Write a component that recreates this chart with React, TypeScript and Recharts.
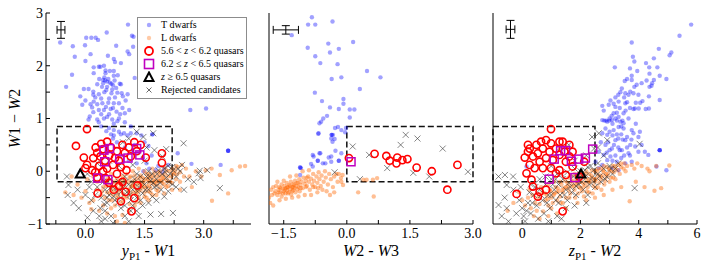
import React from 'react';
import { ScatterChart, Scatter, XAxis, YAxis, ReferenceArea, ErrorBar, Legend } from 'recharts';

type Pt = [number, number];

// ---------- Panel 1: y_P1 - W1 vs W1 - W2 ----------
const p1TDwarfs: Pt[] = [
  [-0.64,2.44],[0.54,2.63],[1.08,2.78],[0.15,2.53],[0.26,2.53],[0.02,2.53],[0.32,2.49],[-0.01,2.39],[-0.32,2.37],[0.78,2.38],
  [1.18,2.57],[1.22,2.55],[1.07,2.27],[1.11,2.22],[1.21,2.36],[-0.27,2.17],[0.13,2.22],[0.57,2.19],[0.72,2.13],[0.0,2.09],
  [0.34,1.98],[0.38,1.98],[0.75,2.07],[0.9,2.05],[0.21,1.97],[0.47,2.0],[-0.34,1.83],[0.21,1.86],[0.51,1.91],[0.51,1.86],
  [0.72,1.81],[0.72,1.9],[0.45,1.73],[0.45,1.67],[0.55,1.70],[0.5,1.72],[0.66,1.66],[0.7,1.63],[0.74,1.72],[0.87,1.66],
  [0.9,1.65],[1.25,1.77],[-0.49,1.60],[-0.04,1.56],[0.08,1.56],[0.2,1.51],[0.2,1.45],[0.34,1.46],[0.53,1.54],[0.66,1.48],
  [0.81,1.49],[0.92,1.48],[1.07,1.46],[1.98,1.41],[-0.13,1.42],[0.0,1.34],[0.21,1.32],[0.43,1.29],[0.58,1.30],[0.72,1.29],
  [0.85,1.29],[1.02,1.34],[0.13,1.27],[0.3,1.27],[-0.08,1.26],[0.17,1.21],[0.34,1.16],[0.47,1.16],[0.64,1.18],[0.79,1.13],
  [0.94,1.20],[1.11,1.16],[2.66,1.16],[3.06,1.19],[0.11,1.04],[0.30,0.98],[0.47,1.0],[0.68,0.98],[0.81,0.95],[0.08,0.98],
  [0.34,0.93],[0.55,1.03],[0.72,0.90],[0.85,1.0],[1.0,0.93],[0.4,0.85],[0.6,0.82],[0.72,0.78],[0.85,0.75],[0.98,0.72],
  [0.53,0.76],[1.15,0.85],[0.65,0.70],[0.72,0.68],[0.9,0.70],[1.07,0.68],[1.15,0.72],[1.3,0.72],[1.42,0.68],[1.7,0.70],
  [1.7,0.70],[1.6,0.48],[1.68,0.30],[1.55,0.15],[1.47,0.0],[1.62,0.05],[1.78,0.02],[2.34,0.34],[3.62,0.39],[3.62,0.39],
  [3.62,0.39],[0.8,0.55],[1.0,0.45],[1.2,0.4],[1.35,0.35],[0.9,0.3],[1.1,0.2],[1.3,0.15],[1.45,0.25],[0.7,0.62],
  [1.25,0.5],[1.5,0.55],[1.85,0.1],[2.0,0.05],[1.95,-0.02],[2.1,0.12],[2.69,0.14],[3.43,0.12],
  [0.48,1.78],[0.58,1.75],[0.62,1.68],[0.42,1.6],[0.55,1.6],[0.78,1.58],[0.3,1.65],[0.35,1.75],[0.62,1.9],[0.82,1.82],
  [0.4,1.38],[0.6,1.38],[0.75,1.4],[0.95,1.42],[0.25,1.4],[0.52,1.22],[0.7,1.2],[0.88,1.08],[0.6,1.08],[0.4,1.08],
  [0.2,1.12],[1.0,1.1],[0.68,1.55],[0.48,1.5],
];

const p1LDwarfs: Pt[] = [
  [0.3,-0.35],[0.4,-0.45],[0.45,-0.3],[0.5,-0.5],[0.55,-0.4],[0.6,-0.25],[0.6,-0.55],[0.65,-0.35],[0.7,-0.45],[0.7,-0.2],
  [0.75,-0.3],[0.8,-0.5],[0.8,-0.15],[0.85,-0.38],[0.9,-0.25],[0.9,-0.6],[0.95,-0.42],[1.0,-0.3],[1.0,-0.15],[1.05,-0.5],
  [1.1,-0.35],[1.1,-0.2],[1.15,-0.1],[1.2,-0.4],[1.2,-0.25],[1.25,-0.3],[1.3,-0.15],[1.3,-0.45],[1.35,-0.22],[1.4,-0.35],
  [1.4,-0.08],[1.45,-0.25],[1.5,-0.15],[1.5,-0.4],[1.55,-0.05],[1.55,-0.28],[1.6,-0.2],[1.65,-0.1],[1.65,-0.32],[1.7,-0.15],
  [1.75,-0.02],[1.75,-0.25],[1.8,-0.1],[1.85,-0.18],[1.9,0.0],[1.9,-0.3],[1.95,-0.08],[2.0,-0.15],[2.05,0.02],[2.1,-0.1],
  [2.15,-0.2],[2.2,0.05],[2.25,-0.05],[2.3,-0.15],[2.35,0.08],[2.4,-0.02],[2.5,-0.1],[2.55,0.05],[2.64,-0.1],[2.8,0.0],
  [2.94,-0.1],[3.05,0.02],[3.2,0.05],[3.41,-0.07],[3.71,0.02],[3.92,0.09],[4.05,0.1],[3.62,-0.42],[3.21,-0.56],[2.7,-0.3],
  [2.4,-0.35],[-0.51,-0.40],[-0.3,-0.45],[-0.1,-0.5],[0.0,-0.38],[0.1,-0.6],[0.2,-0.55],[0.15,-0.72],[0.35,-0.75],[0.45,-0.65],
  [0.55,-0.8],[0.65,-0.7],[0.75,-0.85],[0.94,-0.83],[1.1,-0.75],[1.25,-0.65],[1.4,-0.6],[1.6,-0.55],[1.8,-0.45],[2.0,-0.42],
  [2.2,-0.35],[0.8,-0.95],[1.0,-0.98],[-0.35,-0.1],[-0.2,-0.25],[0.05,-0.15],[0.2,-0.1],[0.3,-0.2],[1.05,-0.05],[1.15,-0.45],
  [1.25,-0.08],[1.35,-0.38],[1.45,-0.12],[1.6,-0.38],[1.7,-0.45],[1.85,-0.02],[2.0,0.08],[1.5,0.0],[0.95,-0.1],[0.85,-0.22],
  [0.55,-0.15],[0.65,-0.05],[1.2,0.0],[1.35,0.05],[1.7,0.05],[2.1,-0.28],[2.3,0.1],[2.45,0.12],[2.0,-0.25],[1.8,-0.35],
  [1.9,-0.15],[1.62,-0.05],[1.4,-0.2],[1.55,-0.5],[1.15,-0.3],[1.3,-0.35],[1.45,-0.3],[1.6,-0.12],[1.75,-0.2],[1.95,-0.22],
  [1.02,-0.22],[1.08,-0.38],[1.12,-0.12],[1.18,-0.28],[1.22,-0.18],[1.28,-0.4],[1.32,-0.25],[1.38,-0.12],[1.42,-0.28],[1.48,-0.2],
  [1.52,-0.32],[1.58,-0.15],[1.62,-0.28],[1.68,-0.22],[1.72,-0.08],[1.78,-0.18],[1.82,-0.25],[1.88,-0.08],[1.92,-0.18],[1.98,-0.12],
  [2.02,-0.05],[2.08,-0.18],[2.12,0.0],[2.18,-0.1],[2.22,-0.02],[2.28,0.02],[2.32,-0.06],[0.72,-0.38],[0.78,-0.25],[0.82,-0.45],
  [0.88,-0.32],[0.92,-0.18],[0.98,-0.48],[0.62,-0.42],[0.68,-0.55],[0.52,-0.28],[0.42,-0.38],[1.35,-0.5],[1.5,-0.48],[1.65,-0.4],
  [1.85,-0.38],[2.05,-0.3],[2.2,-0.22],[2.4,-0.2],[1.12,-0.62],[1.3,-0.58],[0.95,-0.55],[0.75,-0.65],
];

const p1Rejected: Pt[] = [
  [0.3,-0.3],[0.4,-0.5],[0.5,-0.35],[0.55,-0.6],[0.6,-0.45],[0.7,-0.3],[0.75,-0.55],[0.8,-0.4],[0.85,-0.2],[0.9,-0.5],
  [0.95,-0.32],[1.0,-0.65],[1.05,-0.4],[1.1,-0.25],[1.15,-0.55],[1.2,-0.35],[1.25,-0.15],[1.3,-0.5],[1.35,-0.3],[1.4,-0.1],
  [1.45,-0.42],[1.5,-0.25],[1.55,-0.1],[1.6,-0.35],[1.65,-0.18],[1.7,-0.05],[1.75,-0.3],[1.8,-0.15],[1.85,0.02],[1.9,-0.22],
  [1.95,-0.05],[2.0,0.05],[2.05,-0.12],[2.1,0.1],[2.15,-0.05],[2.2,0.08],[2.3,-0.1],[2.4,0.0],[2.45,0.12],[1.47,0.65],
  [1.72,0.72],[2.49,0.53],[2.9,0.01],[3.09,0.02],[2.87,-0.04],[2.92,-0.13],[3.41,-0.32],[1.92,-0.81],[2.22,-0.79],[-0.43,-0.26],
  [-0.47,-0.10],[-0.17,-0.70],[-0.45,-0.45],[-0.2,-0.35],[0.0,-0.45],[0.1,-0.3],[0.15,-0.55],[0.2,-0.75],[0.35,-0.85],[0.5,-0.75],
  [0.65,-0.85],[0.7,-0.98],[1.0,-0.85],[1.1,-0.95],[1.3,-0.75],[1.45,-0.65],[1.6,-0.6],[1.8,-0.55],[2.0,-0.48],[2.2,-0.25],
  [2.6,-0.15],[2.5,-0.35],[2.75,-0.2],[1.3,0.75],[1.1,0.62],[0.95,0.55],[1.55,0.45],[1.75,0.4],[1.95,0.28],[2.05,0.42],
  [0.3,0.15],[0.6,0.2],[0.85,0.1],[1.2,0.12],[1.5,0.2],[-0.3,-0.6],[0.05,-0.88],[0.4,-0.95],[0.9,-0.7],[1.2,-0.65],
  [1.35,-0.85],[1.65,-0.82],[0.45,-0.2],[0.65,-0.15],[1.0,-0.1],[1.3,-0.05],[1.6,0.0],[1.8,-0.28],[2.1,-0.38],[0.55,-0.5],
  [1.02,-0.2],[1.12,-0.45],[1.22,-0.22],[1.32,-0.38],[1.42,-0.2],[1.52,-0.35],[1.62,-0.1],[1.72,-0.22],[1.82,-0.05],[1.92,-0.35],
  [2.02,-0.02],[2.12,-0.2],[2.22,0.02],[0.62,-0.32],[0.72,-0.48],[0.82,-0.6],[0.92,-0.38],[0.48,-0.62],[0.38,-0.7],[0.25,-0.45],
  [0.15,-0.2],[1.15,-0.75],[1.4,-0.55],[1.7,-0.48],[2.3,-0.3],[2.35,0.05],[0.05,-0.05],[0.5,-0.9],
];

const p1QsoLow: Pt[] = [
  [0.04,0.80],[-0.24,0.48],[0.26,0.45],[0.55,0.56],[0.94,0.50],[1.24,0.55],[1.94,0.34],[1.94,0.16],[1.53,0.26],[-0.04,0.26],
  [0.04,0.12],[0.0,0.06],[0.17,0.02],[0.3,0.35],[0.38,0.28],[0.45,0.42],[0.5,0.2],[0.6,0.3],[0.65,0.45],[0.7,0.12],
  [0.8,0.38],[0.85,0.2],[0.35,0.1],[0.2,0.25],[0.55,0.05],[0.75,0.25],[0.4,0.52],[1.0,0.35],[1.1,0.45],[1.15,0.28],
  [1.3,0.38],[1.4,0.5],[0.25,-0.02],[0.45,0.0],[0.9,0.08],[0.3,-0.12],[0.51,-0.13],[0.94,-0.2],[1.04,0.02],[0.31,-0.42],
  [0.72,-0.35],[1.02,-0.39],[1.24,-0.51],[1.32,-0.27],[0.90,-0.57],[1.17,-0.76],[0.6,-0.22],[0.8,-0.05],[0.85,-0.28],
];
const p1QsoMid: Pt[] = [
  [0.47,0.40],[0.61,0.43],[0.49,0.18],[0.87,0.23],[1.08,0.25],[1.30,0.43],[1.38,0.31],[0.31,-0.13],[0.57,-0.16],
];
const p1QsoHigh: Pt[] = [[-0.13,-0.05]];
const p1Err = [{ x: -0.62, y: 2.68, ex: 0.1, ey: 0.16 }];

// ---------- Panel 2: W2 - W3 vs W1 - W2 ----------
const p2TDwarfs: Pt[] = [
  [-0.83,2.92],[-0.92,2.78],[-0.75,2.78],[-0.34,2.84],[-1.31,2.58],[-0.93,2.34],[-0.44,2.42],[-0.19,2.32],[0.15,2.45],[-0.75,2.18],
  [-0.40,2.25],[-0.63,2.05],[-0.22,2.03],[0.48,1.90],[0.80,1.78],[-0.36,1.75],[-0.13,1.78],[0.31,1.56],[-0.76,1.49],[-0.59,1.33],
  [-0.08,1.37],[-0.08,1.28],[-0.40,1.21],[-0.19,1.18],[0.07,1.17],[0.18,1.17],[-0.47,1.05],[-0.56,1.0],[0.07,1.02],[-0.28,0.82],
  [-0.02,0.82],[-0.04,0.74],[-0.68,0.71],[-0.36,0.69],[-0.36,0.69],[-0.29,0.61],[-0.34,0.56],[-0.79,0.28],[-0.63,0.34],[-0.43,0.26],
  [-0.27,0.39],[-0.19,0.20],[-0.19,0.20],[-0.69,0.20],[-0.69,0.20],[-0.51,0.15],[-1.11,0.07],[-1.11,0.07],[-1.11,-0.07],[-0.85,0.14],
  [-0.67,0.72],[-0.65,0.91],[-0.61,0.94],[-0.33,0.69],[-0.37,0.62],[-0.21,0.84],[-0.13,0.78],[-0.81,0.31],[-0.65,0.34],[-0.37,0.28],
  [-0.13,0.34],[-1.09,0.06],[-0.81,0.09],[-0.57,0.15],[-0.37,0.18],
];

const p2LDwarfs: Pt[] = [
  [-1.85,-0.5],[-1.8,-0.35],[-1.78,-0.45],[-1.75,-0.3],[-1.72,-0.42],[-1.7,-0.38],[-1.68,-0.28],[-1.65,-0.45],[-1.62,-0.35],[-1.6,-0.3],
  [-1.58,-0.4],[-1.55,-0.25],[-1.55,-0.48],[-1.52,-0.33],[-1.5,-0.38],[-1.48,-0.28],[-1.46,-0.42],[-1.45,-0.32],[-1.43,-0.22],[-1.42,-0.36],
  [-1.4,-0.3],[-1.38,-0.4],[-1.37,-0.26],[-1.35,-0.34],[-1.33,-0.2],[-1.32,-0.44],[-1.3,-0.3],[-1.28,-0.36],[-1.27,-0.24],[-1.25,-0.32],
  [-1.23,-0.18],[-1.22,-0.4],[-1.2,-0.28],[-1.18,-0.34],[-1.16,-0.22],[-1.15,-0.3],[-1.13,-0.15],[-1.12,-0.38],[-1.1,-0.26],[-1.08,-0.2],
  [-1.05,-0.32],[-1.03,-0.12],[-1.0,-0.24],[-0.98,-0.18],[-0.95,-0.28],[-0.92,-0.1],[-0.9,-0.2],[-0.88,-0.35],[-0.85,-0.14],[-0.82,-0.25],
  [-0.8,-0.05],[-0.78,-0.18],[-0.75,-0.3],[-0.72,-0.1],[-0.7,-0.22],[-0.67,-0.02],[-0.65,-0.15],[-0.62,-0.28],[-0.6,-0.08],[-0.55,-0.2],
  [-0.52,0.0],[-0.5,-0.12],[-0.45,-0.25],[-0.42,-0.05],[-0.38,-0.15],[-0.33,-0.3],[-0.3,-0.1],[-0.25,-0.05],[-0.22,-0.2],[-0.14,-0.13],
  [-0.13,-0.20],[-0.09,-0.26],[-0.1,-0.07],[-0.19,-0.05],[0.27,-0.40],[0.64,-0.48],[0.62,-0.16],[0.72,-0.13],[0.47,-0.16],[0.39,-0.16],
  [-1.82,-0.6],[-1.75,-0.65],[-1.6,-0.55],[-1.45,-0.52],[-1.3,-0.5],[-1.15,-0.48],[-1.0,-0.45],[-0.85,-0.45],[-0.7,-0.4],[-1.65,-0.2],
  [-1.5,-0.18],[-1.35,-0.1],[-1.2,-0.08],[-1.05,0.0],[-0.9,0.02],[-1.58,-0.32],[-1.47,-0.35],[-1.4,-0.42],[-1.35,-0.28],[-1.28,-0.3],
  [-1.52,-0.42],[-1.62,-0.4],[-1.42,-0.3],[-1.3,-0.38],[-1.25,-0.26],[-1.18,-0.22],[-1.1,-0.32],[-0.97,-0.3],[-0.95,-0.12],[-0.8,-0.3],
  [-0.68,-0.32],[-0.58,-0.35],[-0.48,-0.38],[-0.4,-0.45],[-0.3,-0.4],
];

const p2Rejected: Pt[] = [
  [0.53,0.31],[1.28,0.50],[1.40,0.69],[1.68,0.62],[2.28,0.43],[0.96,0.06],[1.58,-0.03],[1.96,-0.10],[2.88,-0.01],[0.31,-0.15],
  [-0.29,-0.02],[0.14,0.47],
];
const p2QsoLow: Pt[] = [
  [0.05,0.25],[0.66,0.33],[0.94,0.29],[1.02,0.20],[1.20,0.26],[1.32,0.21],[1.18,0.15],[1.44,0.23],[1.66,0.07],[2.02,0.0],
  [2.63,0.12],[2.39,-0.35],
];
const p2QsoMid: Pt[] = [[0.10,0.18]];
const p2Err = [{ x: -1.45, y: 2.68, ex: 0.3, ey: 0.08 }];

// ---------- Panel 3: z_P1 - W2 vs W1 - W2 ----------
const p3TDwarfs: Pt[] = [
  [5.80,2.78],[5.40,2.57],[3.76,2.44],[4.69,2.32],[5.12,2.25],[5.06,2.20],[3.80,2.17],[3.85,2.08],[4.52,2.14],[4.25,2.05],
  [4.64,1.97],[4.36,1.97],[3.18,1.97],[4.37,1.85],[4.72,1.81],[4.95,1.75],[3.76,1.81],[3.76,1.73],[3.52,1.71],[3.93,1.64],
  [4.10,1.67],[4.27,1.72],[4.46,1.67],[4.44,1.62],[3.42,1.57],[3.37,1.50],[3.54,1.48],[3.71,1.51],[3.82,1.48],[3.3,1.45],
  [3.2,1.40],[3.5,1.40],[3.65,1.45],[3.99,1.45],[4.35,1.42],[3.03,1.34],[3.31,1.32],[2.97,1.26],[2.75,1.24],[3.14,1.28],
  [3.2,1.22],[3.54,1.29],[3.6,1.31],[4.13,1.33],[4.72,1.35],[3.82,1.18],[3.87,1.19],[4.0,1.19],[4.24,1.18],[4.35,1.19],
  [2.80,1.15],[3.14,1.10],[3.25,1.11],[3.48,1.10],[2.88,0.96],[2.99,0.96],[3.25,0.96],[3.44,0.96],[2.82,0.96],[3.07,1.05],
  [2.75,0.97],[2.92,0.94],[3.08,0.97],[3.31,1.03],[3.37,0.94],[3.48,0.91],[3.65,1.0],[2.86,0.81],[3.14,0.78],[3.31,0.84],
  [3.48,0.81],[3.76,0.78],[3.82,0.72],[4.04,0.75],[3.99,0.65],[4.10,0.50],[2.75,0.72],[2.92,0.69],[3.20,0.59],[3.54,0.59],
  [3.71,0.50],[3.88,0.47],[2.86,0.50],[3.08,0.43],[3.42,0.40],[3.65,0.34],[3.99,0.37],[4.21,0.37],[4.33,0.31],[4.72,0.40],
  [4.72,0.40],[4.72,0.40],[2.63,0.37],[2.80,0.31],[3.03,0.28],[2.92,0.21],[3.25,0.18],[3.54,0.15],[3.76,0.18],[2.75,0.12],
  [3.08,0.06],[3.31,0.02],[2.52,0.18],[2.63,0.06],[4.61,0.09],[4.95,0.02],[0.15,0.09],[3.3,0.62],[3.1,0.68],[2.95,0.55],
  [3.4,0.7],[3.6,0.65],[3.0,0.4],[3.2,0.3],[3.5,0.3],[3.3,0.45],[2.7,0.55],[4.52,1.73],[4.37,1.6],[3.9,1.3],
  [3.1,0.9],[3.2,1.0],[3.4,0.85],[3.0,0.75],[3.25,0.7],[3.45,0.6],[3.15,0.5],[3.35,0.4],[3.6,0.45],[3.75,0.6],
  [2.9,0.35],[3.1,0.2],[3.4,0.25],[3.7,0.3],[3.9,0.9],[3.55,1.15],[3.7,1.2],[3.35,1.2],[3.85,1.6],[3.6,1.75],
  [3.7,1.95],[3.95,1.9],[4.05,1.3],[3.0,1.0],
];

const p3LDwarfs: Pt[] = [
  [0.0,-0.55],[0.1,-0.65],[0.2,-0.5],[0.3,-0.7],[0.35,-0.45],[0.45,-0.6],[0.5,-0.75],[0.55,-0.5],[0.6,-0.62],[0.7,-0.4],
  [0.72,-0.76],[0.8,-0.55],[0.85,-0.45],[0.9,-0.65],[0.95,-0.35],[1.0,-0.5],[1.05,-0.6],[1.1,-0.42],[1.15,-0.3],[1.2,-0.55],
  [1.25,-0.38],[1.3,-0.48],[1.35,-0.25],[1.4,-0.4],[1.45,-0.32],[1.5,-0.5],[1.55,-0.22],[1.6,-0.35],[1.65,-0.42],[1.7,-0.28],
  [1.75,-0.18],[1.8,-0.35],[1.85,-0.25],[1.9,-0.12],[1.95,-0.3],[2.0,-0.2],[2.05,-0.38],[2.1,-0.1],[2.15,-0.25],[2.2,-0.15],
  [2.25,-0.3],[2.3,-0.05],[2.35,-0.2],[2.4,-0.12],[2.45,-0.28],[2.5,0.0],[2.55,-0.15],[2.6,-0.08],[2.65,-0.22],[2.7,0.05],
  [2.75,-0.1],[2.8,-0.02],[2.85,-0.18],[2.9,0.08],[2.95,-0.05],[3.0,0.02],[3.05,-0.12],[3.1,0.1],[3.15,-0.02],[3.2,0.05],
  [3.3,0.12],[3.35,-0.05],[3.4,0.08],[3.5,0.15],[3.55,0.0],[3.6,0.1],[3.76,0.12],[3.85,0.05],[3.95,0.15],[4.1,0.1],
  [4.3,0.05],[4.6,0.10],[5.05,0.11],[4.37,0.0],[4.54,-0.37],[4.77,-0.32],[3.69,-0.57],[4.2,-0.3],[3.9,-0.2],[3.4,-0.3],
  [3.1,-0.35],[2.8,-0.45],[2.5,-0.5],[2.2,-0.55],[1.9,-0.6],[1.5,-0.7],[1.2,-0.8],[0.9,-0.85],[0.6,-0.9],[0.4,-0.85],
  [1.3,-0.2],[1.5,-0.3],[1.7,-0.2],[1.9,-0.22],[2.1,-0.3],[2.3,-0.15],[2.5,-0.2],[2.7,-0.15],[2.9,-0.1],[1.6,-0.12],
  [1.8,-0.05],[2.0,-0.05],[2.2,0.0],[2.4,0.02],[2.6,0.05],[2.8,0.1],[3.0,-0.2],[3.2,-0.15],[1.1,-0.2],[0.9,-0.25],
  [1.4,-0.6],[1.0,-0.7],[0.65,-0.3],[0.25,-0.35],[-0.1,-0.4],[-0.3,-0.6],[-0.5,-0.75],[2.0,-0.32],[2.3,-0.4],[2.6,-0.3],
  [1.22,-0.32],[1.38,-0.35],[1.48,-0.18],[1.58,-0.28],[1.68,-0.1],[1.78,-0.28],[1.88,-0.18],[1.98,-0.1],[2.08,-0.22],[2.18,-0.05],
  [2.28,-0.22],[2.38,-0.08],[2.48,-0.15],[2.58,0.0],[2.68,-0.08],[2.78,0.02],[2.88,-0.05],[2.98,0.05],[3.08,0.0],[3.18,0.1],
  [3.28,0.02],[3.38,0.15],[3.48,0.05],[1.08,-0.45],[1.18,-0.4],[0.98,-0.38],[0.88,-0.52],[0.78,-0.42],[1.32,-0.6],[1.62,-0.5],
  [1.92,-0.42],[2.22,-0.38],[2.52,-0.32],[2.82,-0.25],[3.12,-0.12],[2.72,-0.35],[2.42,-0.42],[2.12,-0.48],[1.82,-0.5],
];

const p3Rejected: Pt[] = [
  [-0.81,-0.10],[-0.59,-0.07],[-0.31,-0.10],[-0.53,-0.26],[-0.81,-0.64],[-0.53,-0.70],[-0.47,-0.95],[-0.7,-0.85],[-0.2,-0.8],[-0.1,-0.55],
  [0.0,-0.7],[0.1,-0.95],[0.2,-0.6],[0.3,-0.8],[0.4,-0.45],[0.5,-0.65],[0.55,-0.9],[0.6,-0.35],[0.7,-0.55],[0.75,-0.8],
  [0.8,-0.25],[0.9,-0.45],[0.95,-0.7],[1.0,-0.15],[1.1,-0.35],[1.15,-0.55],[1.2,-0.05],[1.25,-0.25],[1.3,-0.45],[1.35,-0.9],
  [1.4,-0.15],[1.5,-0.35],[1.55,-0.02],[1.6,-0.22],[1.7,-0.4],[1.75,-0.1],[1.8,0.05],[1.85,-0.28],[1.9,-0.15],[2.0,0.0],
  [2.05,-0.2],[2.1,-0.35],[2.2,-0.08],[2.25,0.08],[2.3,-0.25],[2.4,-0.12],[2.45,0.02],[2.5,-0.3],[2.6,-0.05],[2.7,-0.2],
  [2.8,0.05],[2.9,-0.1],[3.0,0.1],[3.1,-0.05],[3.2,0.05],[3.3,0.15],[4.03,0.52],[3.86,-0.32],[2.47,0.43],[2.63,0.72],
  [2.92,0.59],[1.6,0.5],[1.3,0.45],[1.8,0.2],[2.2,0.3],[1.0,0.1],[0.8,-0.1],[0.6,-0.15],[0.3,-0.25],[-0.05,-0.3],
  [1.5,-0.7],[1.8,-0.65],[2.2,-0.6],[0.9,-0.95],[1.2,-0.85],[2.6,0.15],[2.8,0.3],[2.4,0.65],[2.6,0.45],[1.0,-0.45],
  [0.65,-0.45],[0.85,-0.6],[1.05,-0.25],[1.25,-0.6],[1.45,-0.45],[1.65,-0.3],[1.85,-0.45],[2.05,-0.08],[2.25,-0.45],[2.45,-0.2],
  [2.65,-0.1],[2.85,-0.15],[0.45,-0.3],[0.25,-0.4],[0.15,-0.75],[0.35,-0.6],[1.15,-0.15],[1.35,-0.05],[1.55,-0.55],[1.95,-0.25],
  [2.15,0.02],[2.35,0.1],[3.05,0.05],[0.05,-0.85],[-0.3,-0.35],[-0.6,-0.5],
];

const p3QsoLow: Pt[] = [
  [0.99,0.80],[0.20,0.50],[0.09,0.26],[0.49,0.50],[0.65,0.56],[0.82,0.59],[0.99,0.53],[1.28,0.56],[1.39,0.56],[0.71,0.43],
  [0.94,0.37],[0.54,0.34],[1.16,0.43],[0.37,0.28],[0.60,0.18],[0.82,0.25],[1.05,0.21],[1.28,0.31],[1.45,0.37],[1.50,0.18],
  [1.73,0.37],[0.26,0.12],[0.43,0.06],[0.15,-0.04],[0.32,-0.16],[0.71,0.06],[0.99,0.06],[1.28,0.02],[0.37,-0.29],[0.60,-0.39],
  [0.54,-0.48],[-0.19,-0.43],[0.82,-0.35],[1.39,-0.76],[1.16,-0.04],[1.50,-0.07],[2.13,0.18],[1.96,-0.10],[0.20,0.37],[1.62,0.50],
  [1.62,0.28],[0.26,0.43],[1.73,0.09],
];
const p3QsoMid: Pt[] = [
  [1.10,0.23],[1.32,0.39],[1.49,0.39],[1.69,0.19],[1.94,0.23],[2.17,0.25],[2.42,0.42],[0.93,-0.15],[1.81,-0.12],
];
const p3QsoHigh: Pt[] = [[2.02,-0.05]];
const p3Err = [{ x: -0.4, y: 2.69, ex: 0.15, ey: 0.17 }];

// ---------- Axes ----------
const yTicks = [-1, -0.5, 0, 0.5, 1, 1.5, 2, 2.5, 3];
const yTickLabels = [-1, 0, 1, 2, 3];
const p1XTicks = [-0.75, 0, 0.75, 1.5, 2.25, 3, 3.75];
const p1XTickLabels = [0, 1.5, 3];
const p2XTicks = [-1.5, -0.75, 0, 0.75, 1.5, 2.25, 3];
const p2XTickLabels = [-1.5, 0, 1.5, 3];
const p3XTicks = [0, 1, 2, 3, 4, 5, 6];
const p3XTickLabels = [0, 2, 4, 6];

const FONT = 'Liberation Serif, DejaVu Serif, serif';
const minus = (s: string) => s.replace('-', '\u2212');
const xy = (a: Pt[]) => a.map(([x, y]) => ({ x, y }));

// ---------- Marker shapes ----------
const dotShape = (color: string, op: number) => (p: any) => (
  <circle cx={p.cx} cy={p.cy} r={2.2} fill={color} fillOpacity={op} stroke="none" />
);
const ringShape = (p: any) => (
  <circle cx={p.cx} cy={p.cy} r={3.6} fill="none" stroke="#ff0000" strokeWidth={1.6} />
);
const squareShape = (p: any) => (
  <rect x={p.cx - 4} y={p.cy - 4} width={8} height={8} fill="none" stroke="#c000c0" strokeWidth={1.5} />
);
const triShape = (p: any) => (
  <polygon points={`${p.cx},${p.cy - 4.5} ${p.cx + 4.5},${p.cy + 3.5} ${p.cx - 4.5},${p.cy + 3.5}`} fill="none" stroke="#000" strokeWidth={2} />
);
const crossShape = (p: any) => (
  <path d={`M${p.cx - 3},${p.cy - 3}L${p.cx + 3},${p.cy + 3}M${p.cx - 3},${p.cy + 3}L${p.cx + 3},${p.cy - 3}`} stroke="#333" strokeOpacity={0.75} strokeWidth={0.8} fill="none" />
);
const noShape = () => <g />;

// ---------- Titles ----------
const Sub = ({ children }: any) => (
  <tspan fontStyle="normal" fontSize={11} dy={4}>{children}</tspan>
);

const XTitle = (props: any) => {
  const vb = props.viewBox || { x: 0, y: 0, width: 0, height: 0 };
  const cx = vb.x + vb.width / 2;
  const y = vb.y + 32;
  const kind = props.kind;
  return (
    <text x={cx} y={y} textAnchor="middle" fontFamily={FONT} fontSize={16} fill="#000">
      {kind === 'p1' && (<><tspan fontStyle="italic">y</tspan><Sub>P1</Sub><tspan dy={-4}> - </tspan><tspan fontStyle="italic">W</tspan><tspan>1</tspan></>)}
      {kind === 'p2' && (<><tspan fontStyle="italic">W</tspan><tspan>2 - </tspan><tspan fontStyle="italic">W</tspan><tspan>3</tspan></>)}
      {kind === 'p3' && (<><tspan fontStyle="italic">z</tspan><Sub>P1</Sub><tspan dy={-4}> - </tspan><tspan fontStyle="italic">W</tspan><tspan>2</tspan></>)}
    </text>
  );
};

const YTitle = (props: any) => {
  const vb = props.viewBox || { x: 0, y: 0, width: 0, height: 0 };
  const cx = vb.x + 14;
  const cy = vb.y + vb.height / 2;
  return (
    <text x={cx} y={cy} textAnchor="middle" dominantBaseline="central" transform={`rotate(-90, ${cx}, ${cy})`} fontFamily={FONT} fontSize={16} fill="#000">
      <tspan fontStyle="italic">W</tspan><tspan>1 {'\u2212'} </tspan><tspan fontStyle="italic">W</tspan><tspan>2</tspan>
    </text>
  );
};

// ---------- Legend ----------
const LegendMark = ({ kind }: { kind: string }) => (
  <svg width={14} height={12} style={{ display: 'inline-block', verticalAlign: 'middle', marginRight: 5 }}>
    {kind === 'T' && <circle cx={7} cy={6} r={2.2} fill="#0000ff" fillOpacity={0.35} />}
    {kind === 'L' && <circle cx={7} cy={6} r={2.2} fill="#ff6600" fillOpacity={0.35} />}
    {kind === 'Q1' && <circle cx={7} cy={6} r={4} fill="none" stroke="#ff0000" strokeWidth={1.8} />}
    {kind === 'Q2' && <rect x={2.5} y={1.5} width={9} height={9} fill="none" stroke="#c000c0" strokeWidth={1.6} />}
    {kind === 'Q3' && <polygon points="7,1.5 11.5,10 2.5,10" fill="none" stroke="#000" strokeWidth={2} />}
    {kind === 'X' && <path d="M4.5,3.5L9.5,8.5M4.5,8.5L9.5,3.5" stroke="#444" strokeWidth={0.8} />}
  </svg>
);

const legendRows: { kind: string; label: React.ReactNode }[] = [
  { kind: 'T', label: 'T dwarfs' },
  { kind: 'L', label: 'L dwarfs' },
  { kind: 'Q1', label: (<>5.6 &lt; <i>z</i> &lt; 6.2 quasars</>) },
  { kind: 'Q2', label: (<>6.2 &le; <i>z</i> &lt; 6.5 quasars</>) },
  { kind: 'Q3', label: (<><i>z</i> &ge; 6.5 quasars</>) },
  { kind: 'X', label: 'Rejected candidates' },
];

const LegendBox = () => (
  <div style={{ boxSizing: 'border-box', width: 110, height: 82, border: '1.5px solid #8c8c8c', background: '#fff', padding: '0 0 0 4px', fontFamily: FONT, fontSize: 10, lineHeight: '13px', color: '#000', whiteSpace: 'nowrap' }}>
    {legendRows.map((r) => (
      <div key={r.kind} style={{ height: 13, display: 'flex', alignItems: 'center' }}>
        <LegendMark kind={r.kind} />
        <span>{r.label}</span>
      </div>
    ))}
  </div>
);

// ---------- Panel builder ----------
type PanelCfg = {
  left: number; width: number; yAxisWidth: number; rightMargin: number;
  xDomain: [number, number]; xTicks: number[]; xLabels: number[]; xFmt: (v: number) => string;
  showYLabels: boolean; kind: string;
};

const tickStyle = { fill: '#000', fontSize: 14, fontFamily: FONT };

function renderPanel(cfg: PanelCfg, series: React.ReactNode[], extra: React.ReactNode[]) {
  return (
    <div style={{ position: 'absolute', left: cfg.left, top: 0 }}>
      <ScatterChart width={cfg.width} height={266} margin={{ top: 13, right: cfg.rightMargin, bottom: 0, left: 0 }}>
        <XAxis
          type="number" dataKey="x" xAxisId={0} orientation="bottom" domain={cfg.xDomain} allowDataOverflow
          ticks={cfg.xTicks} interval={0} height={42} tickSize={-4} tickMargin={8}
          stroke="#000" tick={tickStyle}
          tickFormatter={(v: number) => (cfg.xLabels.includes(v) ? cfg.xFmt(v) : '')}
          label={<XTitle kind={cfg.kind} />}
        />
        <XAxis
          type="number" xAxisId="top" orientation="top" domain={cfg.xDomain} allowDataOverflow
          ticks={cfg.xTicks} interval={0} height={0} tickSize={-4} stroke="#000" tick={false}
        />
        <YAxis
          type="number" dataKey="y" yAxisId={0} orientation="left" domain={[-1, 3]} allowDataOverflow
          ticks={yTicks} interval={0} width={cfg.yAxisWidth} tickSize={-4} tickMargin={7}
          stroke="#000" tick={cfg.showYLabels ? tickStyle : false}
          tickFormatter={(v: number) => (yTickLabels.includes(v) ? minus(String(v)) : '')}
          label={cfg.showYLabels ? <YTitle /> : undefined}
        />
        <YAxis
          type="number" yAxisId="right" orientation="right" domain={[-1, 3]} allowDataOverflow
          ticks={yTicks} interval={0} width={0} tickSize={-4} stroke="#000" tick={false}
        />
        {series}
        {extra}
      </ScatterChart>
    </div>
  );
}

const boxStyle = { stroke: '#111', strokeDasharray: '6 3', strokeWidth: 1.5, fill: 'none', fillOpacity: 0 };

const seriesFor = (
  id: string, t: Pt[], l: Pt[], rej: Pt[], q1: Pt[], q2: Pt[], q3: Pt[], err: any[],
) => [
  <Scatter key={id + 't'} name="T dwarfs" data={xy(t)} shape={dotShape('#0000ff', 0.37)} isAnimationActive={false} />,
  <Scatter key={id + 'l'} name="L dwarfs" data={xy(l)} shape={dotShape('#ff6600', 0.42)} isAnimationActive={false} />,
  <Scatter key={id + 'x'} name="Rejected candidates" data={xy(rej)} shape={crossShape} isAnimationActive={false} />,
  <Scatter key={id + 'q1'} name="5.6 < z < 6.2 quasars" data={xy(q1)} shape={ringShape} isAnimationActive={false} />,
  <Scatter key={id + 'q2'} name="6.2 ≤ z < 6.5 quasars" data={xy(q2)} shape={squareShape} isAnimationActive={false} />,
  <Scatter key={id + 'q3'} name="z ≥ 6.5 quasars" data={xy(q3)} shape={triShape} isAnimationActive={false} />,
  <Scatter key={id + 'e'} name="error" data={err} shape={noShape} isAnimationActive={false}>
    <ErrorBar dataKey="ex" direction="x" width={4} stroke="#000" strokeWidth={1} />
    <ErrorBar dataKey="ey" direction="y" width={4} stroke="#000" strokeWidth={1} />
  </Scatter>,
];

export default function App() {
  return (
    <div style={{ position: 'absolute', left: 0, top: 0, width: 706, height: 266, background: '#fff', overflow: 'hidden' }}>
      {renderPanel(
        { left: 0, width: 260, yAxisWidth: 46, rightMargin: 9, xDomain: [-1, 4.2], xTicks: p1XTicks, xLabels: p1XTickLabels, xFmt: (v) => minus(v.toFixed(1)), showYLabels: true, kind: 'p1' },
        seriesFor('p1', p1TDwarfs, p1LDwarfs, p1Rejected, p1QsoLow, p1QsoMid, p1QsoHigh, p1Err),
        [
          <ReferenceArea key="b1" x1={-0.72} x2={2.2} y1={-0.2} y2={0.85} {...boxStyle} />,
          <Legend key="lg" layout="vertical" align="center" verticalAlign="middle" wrapperStyle={{ left: 137, top: 17, width: 110, height: 82 }} content={() => <LegendBox />} />,
        ],
      )}
      {renderPanel(
        { left: 230, width: 256, yAxisWidth: 39, rightMargin: 13, xDomain: [-1.85, 3], xTicks: p2XTicks, xLabels: p2XTickLabels, xFmt: (v) => minus(v.toFixed(1)), showYLabels: false, kind: 'p2' },
        seriesFor('p2', p2TDwarfs, p2LDwarfs, p2Rejected, p2QsoLow, p2QsoMid, [], p2Err),
        [<ReferenceArea key="b2" x1={0} x2={3} y1={-0.2} y2={0.85} {...boxStyle} />],
      )}
      {renderPanel(
        { left: 470, width: 236, yAxisWidth: 23, rightMargin: 9, xDomain: [-1, 6], xTicks: p3XTicks, xLabels: p3XTickLabels, xFmt: (v) => String(v), showYLabels: false, kind: 'p3' },
        seriesFor('p3', p3TDwarfs, p3LDwarfs, p3Rejected, p3QsoLow, p3QsoMid, p3QsoHigh, p3Err),
        [<ReferenceArea key="b3" x1={-1} x2={2.5} y1={-0.2} y2={0.85} {...boxStyle} />],
      )}
    </div>
  );
}
